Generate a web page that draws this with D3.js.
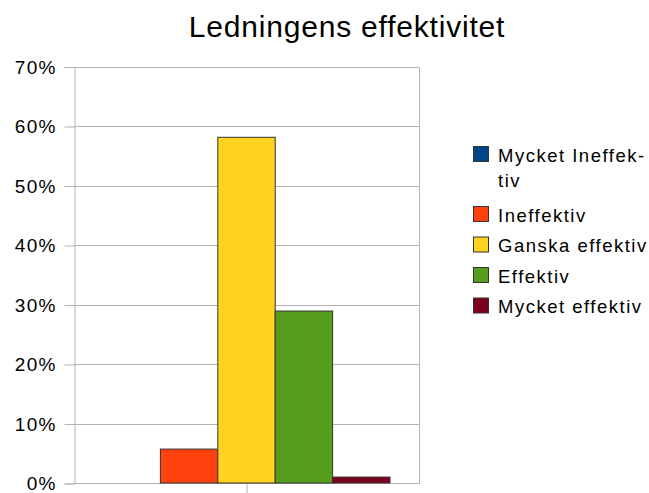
<!DOCTYPE html>
<html><head><meta charset="utf-8">
<script src="https://cdn.jsdelivr.net/npm/d3@7"></script>
<style>body{margin:0;background:#fff}svg{display:block;font-family:"Liberation Sans",Arial,sans-serif}</style>
</head><body>
<script>
const title = "Ledningens effektivitet";
const categories = [""];
const seriesNames = ["Mycket Ineffektiv","Ineffektiv","Ganska effektiv","Effektiv","Mycket effektiv"];
const legendLabels = [["Mycket Ineffek-","tiv"],["Ineffektiv"],["Ganska effektiv"],["Effektiv"],["Mycket effektiv"]];
const values = [0, 5.7, 58.1, 28.9, 1.0];
const colors = ["#004586","#ff420e","#ffd320","#579d1c","#7e0021"];
const yTicks = [0,10,20,30,40,50,60,70];

const W=649,H=493;
const svg=d3.select("body").append("svg").attr("width",W).attr("height",H);
const L=74,R=419,T=66.5,B=483;
const y=d3.scaleLinear().domain([0,70]).range([B,T]);
const x0=d3.scaleBand().domain(categories).range([L,R]).paddingInner(0).paddingOuter(0.101);
const x1=d3.scaleBand().domain(seriesNames).range([0,x0.bandwidth()]).padding(0);

svg.append("text").attr("x",347).attr("y",37).attr("text-anchor","middle").attr("font-size",30).attr("letter-spacing",0.8).attr("fill","#000").text(title);

const g=svg.append("g");
g.selectAll(".grid").data(yTicks.slice(1)).join("line")
 .attr("x1",L).attr("x2",R).attr("y1",d=>Math.round(y(d))+0.5).attr("y2",d=>Math.round(y(d))+0.5)
 .attr("stroke","#b3b3b3").attr("stroke-width",1);
g.append("line").attr("x1",R+0.5).attr("x2",R+0.5).attr("y1",Math.round(T)+0.5).attr("y2",B+0.5).attr("stroke","#b3b3b3");

const ya=d3.axisLeft(y).tickValues(yTicks).tickFormat(d=>d+"%").tickSize(10).tickPadding(8);
const yg=svg.append("g").attr("transform",`translate(${L+0.5},0.5)`).call(ya);
yg.select(".domain").attr("stroke","#b3b3b3");
yg.selectAll(".tick line").attr("stroke","#b3b3b3");
yg.selectAll(".tick text").attr("font-size",19).attr("letter-spacing",1.2).attr("fill","#000").attr("font-family","Liberation Sans, Arial, sans-serif");

const xa=d3.axisBottom(x0).tickSize(10).tickFormat("");
const xg=svg.append("g").attr("transform",`translate(0.5,${B+0.5})`).call(xa);
xg.select(".domain").attr("d",`M${L},0H${R}`).attr("stroke","#b3b3b3");
xg.selectAll(".tick line").attr("stroke","#b3b3b3");

const grp=svg.append("g").selectAll("g").data(categories).join("g").attr("transform",d=>`translate(${x0(d)},0)`);
grp.selectAll("rect").data(seriesNames.map((s,i)=>({s,v:values[i],c:colors[i]}))).join("rect")
 .filter(d=>d.v>0)
 .attr("x",d=>x1(d.s)).attr("width",x1.bandwidth())
 .attr("y",d=>y(d.v)).attr("height",d=>B-y(d.v))
 .attr("fill",d=>d.c).attr("stroke","#333").attr("stroke-width",1);

const ly=[146.5,206.5,237,267.5,298];
const lg=svg.append("g");
seriesNames.forEach((s,i)=>{
  lg.append("rect").attr("x",473.5).attr("y",ly[i]).attr("width",15).attr("height",15).attr("fill",colors[i]).attr("stroke","#333");
  legendLabels[i].forEach((t,j)=>{
    lg.append("text").attr("x",498).attr("y",ly[i]+15+j*25).attr("font-size",18.5).attr("letter-spacing",1.5).attr("fill","#000").text(t);
  });
});
</script>
</body></html>
